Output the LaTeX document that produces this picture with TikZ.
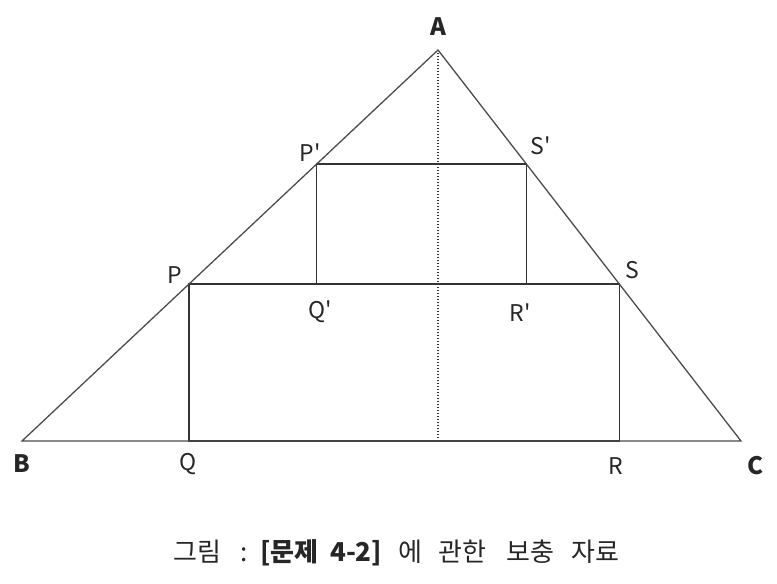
\documentclass[tikz,border=0pt]{standalone}
\usepackage{fontspec}
\setmainfont{Noto Sans CJK KR}[Ligatures=TeXOff]
\usetikzlibrary{calc}
\begin{document}
\begin{tikzpicture}[x=1pt,y=-1pt,
  tri/.style={draw=black!70, line width=1.3pt},
  rectline/.style={draw=black!80, line width=1.5pt},
  dotline/.style={draw=black!80, line width=1.4pt, dash pattern=on 1.4pt off 1.6pt},
  lbl/.style={font=\fontsize{23}{25}\selectfont, text=black!85, inner sep=0pt},
  blbl/.style={font=\fontsize{24}{26}\selectfont\bfseries, text=black!85, inner sep=0pt}]
\useasboundingbox (0,0) rectangle (777,584);
\coordinate (A) at (438,50);
\coordinate (B) at (22,441);
\coordinate (C) at (741,441);
\coordinate (P) at ($(A)!0.5985!(B)$);
\coordinate (S) at ($(A)!0.5985!(C)$);
\coordinate (P2) at ($(A)!0.2916!(B)$);
\coordinate (S2) at ($(A)!0.2916!(C)$);
\coordinate (Q) at (P |- B);
\coordinate (R) at (S |- C);
\coordinate (Q2) at (P2 |- P);
\coordinate (R2) at (S2 |- S);
\coordinate (H) at (A |- B);
\draw[dotline] (A) -- (H);
\draw[rectline] (P) -- (Q) -- (R) -- (S) -- cycle;
\draw[rectline] (P2) -- (Q2) -- (R2) -- (S2) -- cycle;
\draw[tri] (A) -- (B) -- (C) -- cycle;
\node[blbl] (lA) at (438,27) {A};
\node[blbl] (lB) at (22,464) {B};
\node[blbl] (lC) at (755,466) {C};
\node[lbl] (lQ) at (188,464) {Q};
\node[lbl] (lR) at (616,466) {R};
\node[lbl] (lP) at (175,275) {P};
\node[lbl] (lS) at (632,270) {S};
\node[lbl] (lP2) at (310,153) {P'};
\node[lbl] (lS2) at (541,146) {S'};
\node[lbl] (lQ2) at (320,312) {Q'};
\node[lbl] (lR2) at (520,313) {R'};
\node[font=\fontsize{26}{28}\selectfont, text=black!85, inner sep=0pt, anchor=west] (cap) at (173,553)
  {\rlap{그림}\hspace{67pt}\rlap{:}\hspace{20pt}\rlap{\textbf{[문제}}\hspace{70pt}\rlap{\textbf{4-2]}}\hspace{68pt}\rlap{에}\hspace{40pt}\rlap{관한}\hspace{68pt}\rlap{보충}\hspace{65pt}자료};
\end{tikzpicture}
\end{document}
